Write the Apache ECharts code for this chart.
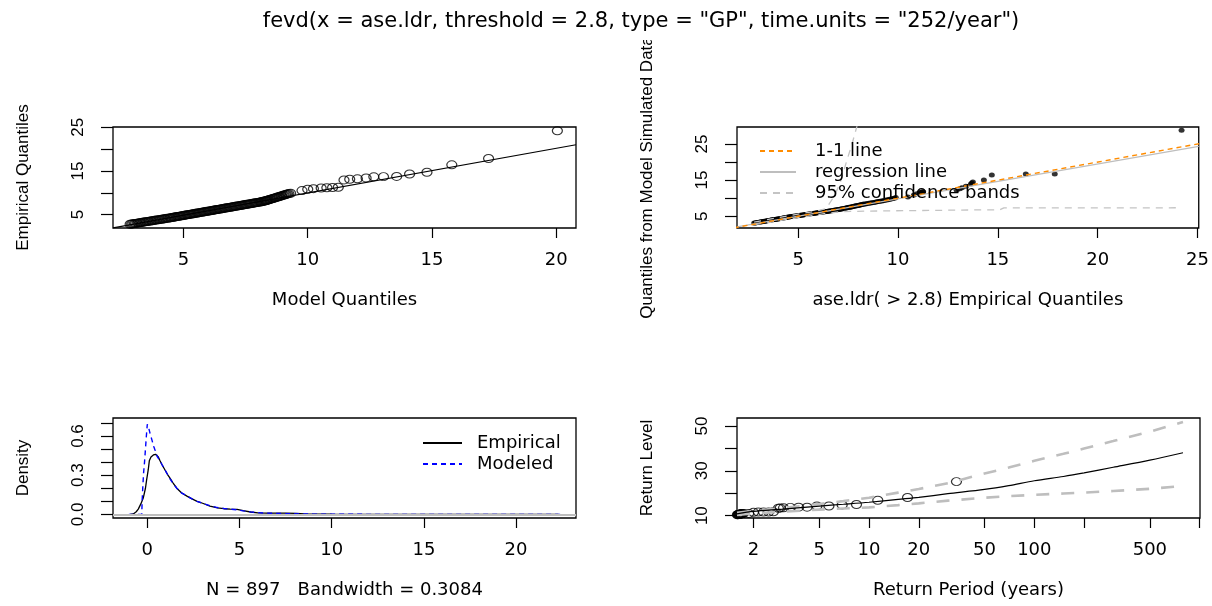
<!DOCTYPE html>
<html>
<head>
<meta charset="utf-8">
<script src="https://cdn.jsdelivr.net/npm/echarts@6/dist/echarts.min.js"></script>
<style>
  html, body { margin: 0; padding: 0; background: #ffffff; }
  #chart { width: 1212px; height: 606px; }
</style>
</head>
<body>
<div id="chart"></div>
<script>
// ---- Diagnostics for the GP fit of ase.ldr above threshold 2.8 ----

// Sorted empirical quantiles of the exceedances (shared by both QQ panels)
const empQ = [
  2.80, 2.85, 2.90, 2.95, 3.00, 3.05, 3.10, 3.15, 3.20, 3.25,
  3.30, 3.35, 3.40, 3.45, 3.50, 3.55, 3.60, 3.65, 3.70, 3.75,
  3.80, 3.85, 3.90, 3.95, 4.00, 4.05, 4.10, 4.15, 4.20, 4.25,
  4.30, 4.35, 4.40, 4.45, 4.50, 4.55, 4.60, 4.65, 4.70, 4.75,
  4.80, 4.85, 4.90, 4.95, 5.00, 5.05, 5.10, 5.15, 5.20, 5.25,
  5.30, 5.35, 5.40, 5.45, 5.50, 5.55, 5.60, 5.65, 5.70, 5.75,
  5.80, 5.85, 5.90, 5.95, 6.00, 6.05, 6.10, 6.15, 6.20, 6.25,
  6.30, 6.35, 6.40, 6.45, 6.50, 6.55, 6.60, 6.65, 6.70, 6.75,
  6.80, 6.85, 6.90, 6.95, 7.00, 7.05, 7.10, 7.15, 7.20, 7.25,
  7.30, 7.35, 7.40, 7.45, 7.50, 7.55, 7.60, 7.65, 7.70, 7.75,
  7.80, 7.85, 7.90, 7.95, 8.00, 8.05, 8.10, 8.15, 8.20, 8.25,
  8.30,
  8.38, 8.46, 8.54, 8.62, 8.70, 8.78, 8.86, 8.94, 9.02, 9.10,
  9.18, 9.26, 9.34, 9.42, 9.50, 9.58, 9.66, 9.74, 9.82,
  9.89, 10.5, 10.8, 10.95, 11.1, 11.15, 11.2, 11.26, 12.94, 13.1,
  13.2, 13.4, 13.65, 13.7, 13.75, 14.3, 14.7, 16.4, 17.85, 24.2
];
// Quantiles of the fitted GP model at the same probabilities
const modelQ = [
  2.85, 2.91, 2.96, 3.02, 3.07, 3.13, 3.18, 3.24, 3.29, 3.35,
  3.40, 3.46, 3.51, 3.57, 3.62, 3.68, 3.73, 3.79, 3.84, 3.90,
  3.95, 4.01, 4.06, 4.12, 4.17, 4.23, 4.28, 4.34, 4.39, 4.45,
  4.49, 4.54, 4.59, 4.64, 4.69, 4.74, 4.79, 4.84, 4.89, 4.94,
  4.99, 5.04, 5.09, 5.14, 5.19, 5.24, 5.29, 5.34, 5.39, 5.44,
  5.49, 5.54, 5.59, 5.64, 5.69, 5.74, 5.79, 5.84, 5.89, 5.94,
  5.99, 6.04, 6.09, 6.14, 6.19, 6.24, 6.29, 6.34, 6.39, 6.44,
  6.49, 6.54, 6.59, 6.64, 6.69, 6.74, 6.79, 6.84, 6.89, 6.94,
  6.99, 7.04, 7.09, 7.14, 7.19, 7.24, 7.29, 7.34, 7.39, 7.44,
  7.49, 7.54, 7.59, 7.64, 7.69, 7.74, 7.79, 7.84, 7.89, 7.94,
  7.99, 8.04, 8.09, 8.13, 8.17, 8.21, 8.25, 8.29, 8.32, 8.35,
  8.38,
  8.42, 8.47, 8.51, 8.56, 8.60, 8.65, 8.69, 8.74, 8.78, 8.83,
  8.87, 8.92, 8.96, 9.01, 9.05, 9.10, 9.14, 9.19, 9.24,
  9.31, 9.77, 10.0, 10.23, 10.54, 10.77, 11.0, 11.23, 11.46, 11.69,
  12.0, 12.35, 12.66, 13.05, 13.58, 14.1, 14.8, 15.8, 17.28, 20.05
];
// Quantiles of data simulated from the fitted model
const simQ = [
  3.10, 3.15, 3.20, 3.25, 3.30, 3.35, 3.40, 3.45, 3.50, 3.55,
  3.60, 3.65, 3.70, 3.75, 3.80, 3.85, 3.90, 3.95, 4.00, 4.04,
  4.08, 4.12, 4.16, 4.21, 4.26, 4.31, 4.36, 4.41, 4.46, 4.51,
  4.56, 4.61, 4.66, 4.71, 4.76, 4.81, 4.86, 4.90, 4.94, 4.98,
  5.02, 5.06, 5.10, 5.14, 5.18, 5.22, 5.26, 5.30, 5.34, 5.38,
  5.42, 5.46, 5.50, 5.54, 5.58, 5.62, 5.66, 5.70, 5.74, 5.78,
  5.82, 5.86, 5.90, 5.94, 5.98, 6.02, 6.06, 6.10, 6.14, 6.18,
  6.22, 6.26, 6.30, 6.34, 6.38, 6.42, 6.46, 6.50, 6.55, 6.60,
  6.65, 6.70, 6.75, 6.80, 6.85, 6.90, 6.95, 7.00, 7.05, 7.10,
  7.16, 7.22, 7.28, 7.34, 7.40, 7.46, 7.52, 7.58, 7.64, 7.70,
  7.76, 7.82, 7.88, 7.94, 8.00, 8.06, 8.12, 8.18, 8.24, 8.30,
  8.36,
  8.42, 8.50, 8.58, 8.66, 8.74, 8.82, 8.90, 8.98, 9.06, 9.14,
  9.22, 9.30, 9.40, 9.50, 9.60, 9.70, 9.80, 9.90, 10.0,
  10.2, 10.3, 10.9, 11.2, 11.5, 11.6, 11.7, 11.8, 12.2, 12.6,
  12.9, 13.3, 13.9, 14.2, 14.5, 15.0, 16.4, 16.7, 16.7, 28.8
];

// Fitted line through the model-vs-empirical QQ points
const qqLineX = [2.16, 20.8];
const qqLineY = [1.95, 21.0];

// 1-1 reference and regression line for the simulated-data QQ plot
const identityEnds = [0, 30];
const regX = [1.94, 25.06];
const regY = [2.05, 24.35];

// 95% confidence bands for the simulated-data QQ plot
const bandLowX = [2.8, 3.6, 4.5, 5.5, 6.3, 7.2, 9.5, 13.0, 15.1, 15.3, 24.2];
const bandLowY = [2.7, 3.3, 4.2, 5.0, 5.7, 6.3, 6.5, 6.7, 6.8, 7.3, 7.35];
const bandUpX = [2.8, 4.0, 5.0, 5.8, 6.4, 6.8, 7.1, 7.4, 7.7, 8.0];
const bandUpY = [3.4, 4.6, 5.6, 6.3, 7.1, 10.5, 14.1, 19.7, 25.0, 31.0];

// Kernel density of the excesses (empirical) and the modelled GP density
const densX = [-0.93, -0.76, -0.6, -0.49, -0.35, -0.22, -0.1, -0.04, 0.05, 0.11,
  0.2, 0.33, 0.45, 0.51, 0.6, 0.69, 0.8, 0.96, 1.1, 1.24,
  1.4, 1.6, 1.85, 2.15, 2.4, 2.7, 3.0, 3.4, 3.8, 4.15,
  4.5, 4.87, 5.2, 5.6, 6.0, 6.5, 7.0, 7.5, 8.1, 8.5,
  9.0, 10, 12, 15, 18, 22.3];
const densY = [0, 0.003, 0.02, 0.04, 0.08, 0.125, 0.2, 0.26, 0.34, 0.41,
  0.44, 0.455, 0.46, 0.455, 0.44, 0.41, 0.38, 0.34, 0.305, 0.275,
  0.24, 0.2, 0.165, 0.14, 0.12, 0.1, 0.085, 0.063, 0.05, 0.043,
  0.04, 0.038, 0.028, 0.018, 0.012, 0.01, 0.009, 0.009, 0.008, 0.004,
  0.002, 0.001, 0, 0, 0, 0];
const modX = [-1.0, -0.3, -0.28, -0.24, -0.2, -0.15, -0.1, -0.05, 0.0, 0.08,
  0.15, 0.25, 0.35, 0.45, 0.55, 0.69, 0.8, 0.96, 1.1, 1.24,
  1.4, 1.6, 1.85, 2.15, 2.4, 2.7, 3.0, 3.4, 3.8, 4.15,
  4.5, 4.87, 5.2, 5.6, 6.0, 6.5, 7.0, 7.5, 8.0, 9.0,
  10, 12, 15, 18, 22.4];
const modY = [0, 0, 0.1, 0.22, 0.32, 0.4, 0.5, 0.6, 0.69, 0.66,
  0.62, 0.57, 0.52, 0.48, 0.44, 0.41, 0.38, 0.34, 0.305, 0.27,
  0.235, 0.2, 0.165, 0.14, 0.12, 0.1, 0.085, 0.066, 0.052, 0.045,
  0.04, 0.035, 0.027, 0.019, 0.013, 0.009, 0.007, 0.005, 0.004, 0.002,
  0.001, 0, 0, 0, 0];

// Return level curve with 95% confidence limits
const rlPeriod = [1.59, 2, 3, 5, 7, 10, 15, 20, 30, 50, 70, 100, 150, 200, 300, 500, 793];
const rlLevel  = [10.8, 11.9, 12.9, 14.3, 15.1, 16.0, 17.3, 18.2, 19.8, 21.7, 23.4, 25.6, 27.5, 29.1, 31.6, 34.8, 38.1];
const rlUpper  = [11.3, 12.2, 13.4, 15.2, 16.5, 18.0, 20.3, 21.9, 24.5, 28.8, 31.5, 34.5, 37.6, 40.0, 43.3, 47.5, 51.8];
const rlLower  = [10.3, 11.0, 11.8, 12.7, 13.2, 13.7, 14.7, 15.5, 16.7, 18.0, 18.7, 19.3, 19.9, 20.3, 21.0, 22.0, 23.2];

// Observed return levels at their empirical return periods
const obsPeriod = [1.40, 1.42, 1.44, 1.46, 1.48, 1.50, 1.52, 1.54, 1.56, 1.58,
  1.60, 1.61, 1.62, 1.63, 1.64, 1.65, 1.66, 1.67, 1.68, 1.69, 1.70, 1.72, 1.74,
  1.87, 2.0, 2.14, 2.3, 2.47, 2.64,
  2.83, 2.9, 3.04, 3.34, 3.75, 4.22, 4.84, 5.72, 6.88, 8.4, 11.3, 17.1, 33.8];
const obsLevel = [9.9, 9.95, 10.0, 10.05, 10.1, 10.15, 10.2, 10.25, 10.3, 10.35,
  10.4, 10.45, 10.5, 10.55, 10.6, 10.65, 10.7, 10.75, 10.8, 10.85, 10.9, 10.95, 11.0,
  11.0, 11.5, 11.6, 11.6, 11.6, 11.7,
  13.3, 13.4, 13.5, 13.7, 13.8, 13.8, 14.3, 14.3, 14.8, 15.0, 16.9, 18.1, 25.2];

// Tick positions and labelled ticks per panel
const qq1XTicks = [5, 10, 15, 20];
const qq1YTicks = [5, 10, 15, 20, 25], qq1YLabels = [5, 15, 25];
const qq2XTicks = [5, 10, 15, 20, 25];
const qq2YTicks = [5, 10, 15, 20, 25], qq2YLabels = [5, 15, 25];
const denXTicks = [0, 5, 10, 15, 20];
const denYTicks = [0, 0.1, 0.2, 0.3, 0.4, 0.5, 0.6, 0.7], denYLabels = [0, 0.3, 0.6];
const rlXTicks = [2, 5, 10, 20, 50, 100, 200, 500, 1000], rlXLabels = [2, 5, 10, 20, 50, 100, 500];
const rlYTicks = [10, 20, 30, 40, 50], rlYLabels = [10, 30, 50];

// Horizontal text uses a wide face; text running up the y axes uses a narrow one
const WIDE = '"DejaVu Sans", Verdana, sans-serif';
const NARROW = '"Liberation Sans", Arial, Helvetica, sans-serif';
const INK = '#000000';

const zip = (xs, ys) => xs.map((x, i) => [x, ys[i]]);

function xAxis(gridIndex, type, min, max, ticks, labels, name) {
  return {
    type, gridIndex, min, max,
    axisLine: { show: false, onZero: false },
    splitLine: { show: false },
    axisTick: { show: true, inside: false, length: 10, customValues: ticks,
      lineStyle: { color: INK, width: 1.2 } },
    axisLabel: { customValues: labels, margin: 23, fontSize: 18, fontFamily: WIDE,
      color: INK, formatter: v => String(v) },
    name, nameLocation: 'middle', nameGap: 63,
    nameTextStyle: { fontSize: 18, fontFamily: WIDE, color: INK }
  };
}
function yAxis(gridIndex, min, max, ticks, labels, name, fmt) {
  return {
    type: 'value', gridIndex, min, max,
    axisLine: { show: false, onZero: false },
    splitLine: { show: false },
    axisTick: { show: true, inside: false, length: 12, customValues: ticks,
      lineStyle: { color: INK, width: 1.2 } },
    axisLabel: { customValues: labels, rotate: 90, margin: 26, fontSize: 17, fontFamily: NARROW,
      color: INK, formatter: fmt || (v => String(v)) },
    name, nameLocation: 'middle', nameGap: 81,
    nameTextStyle: { fontSize: 17, fontFamily: NARROW, color: INK }
  };
}
const gridBox = { show: true, borderColor: INK, borderWidth: 1.3, backgroundColor: 'transparent' };
const openCircle = { color: 'rgba(0,0,0,0)', borderColor: INK, borderWidth: 1.1 };

const option = {
  animation: false,
  backgroundColor: '#ffffff',
  title: {
    text: 'fevd(x = ase.ldr, threshold = 2.8, type = "GP", time.units = "252/year")',
    left: 636, textAlign: 'center', top: 6,
    textStyle: { fontSize: 21, fontWeight: 'normal', fontFamily: WIDE, color: INK }
  },
  // the outer-left label of the top-right panel stops at its figure region
  graphic: [
    { type: 'rect', z: 3, silent: true, shape: { x: 622, y: 0, width: 50, height: 40 },
      style: { fill: '#ffffff' } }
  ],
  grid: [
    Object.assign({ left: 113, top: 127, width: 463, height: 101 }, gridBox),
    Object.assign({ left: 737, top: 127, width: 463, height: 101 }, gridBox),
    Object.assign({ left: 113, top: 418, width: 463, height: 100 }, gridBox),
    Object.assign({ left: 737, top: 418, width: 463, height: 100 }, gridBox)
  ],
  xAxis: [
    xAxis(0, 'value', 2.16, 20.8, qq1XTicks, qq1XTicks, 'Model Quantiles'),
    xAxis(1, 'value', 1.94, 25.06, qq2XTicks, qq2XTicks, 'ase.ldr( > 2.8) Empirical Quantiles'),
    xAxis(2, 'value', -1.86, 23.25, denXTicks, denXTicks, 'N = 897   Bandwidth = 0.3084'),
    xAxis(3, 'log', 1.59, 1005, rlXTicks, rlXLabels, 'Return Period (years)')
  ],
  yAxis: [
    yAxis(0, 1.94, 25.06, qq1YTicks, qq1YLabels, 'Empirical Quantiles'),
    yAxis(1, 1.75, 29.7, qq2YTicks, qq2YLabels, 'Quantiles from Model Simulated Data'),
    yAxis(2, -0.028, 0.738, denYTicks, denYLabels, 'Density', v => v.toFixed(1)),
    yAxis(3, 8.96, 53.6, rlYTicks, rlYLabels, 'Return Level')
  ],
  legend: [
    {
      data: ['1-1 line', 'regression line', '95% confidence bands'],
      orient: 'vertical', left: 754, top: 137, itemWidth: 36, itemHeight: 10, itemGap: 3,
      selectedMode: false, itemStyle: { opacity: 0 },
      textStyle: { fontSize: 18, fontFamily: WIDE, color: INK, padding: [0, 0, 0, 14], lineHeight: 18 }
    },
    {
      data: ['Empirical', 'Modeled'],
      orient: 'vertical', left: 417, top: 429, itemWidth: 39, itemHeight: 10, itemGap: 3,
      selectedMode: false, itemStyle: { opacity: 0 },
      textStyle: { fontSize: 18, fontFamily: WIDE, color: INK, padding: [0, 0, 0, 10], lineHeight: 18 }
    }
  ],
  series: [
    // Top left: empirical vs model quantiles
    {
      type: 'scatter', xAxisIndex: 0, yAxisIndex: 0, data: zip(modelQ, empQ),
      symbol: 'circle', symbolSize: [10, 8], silent: true, itemStyle: openCircle
    },
    {
      type: 'line', xAxisIndex: 0, yAxisIndex: 0, data: zip(qqLineX, qqLineY),
      symbol: 'none', silent: true, lineStyle: { color: INK, width: 1.2 }
    },
    // Top right: simulated vs empirical quantiles
    {
      type: 'scatter', xAxisIndex: 1, yAxisIndex: 1, data: zip(empQ, simQ),
      symbol: 'circle', symbolSize: [6, 5], silent: true, itemStyle: { color: INK }
    },
    {
      name: '95% confidence bands', type: 'line', xAxisIndex: 1, yAxisIndex: 1,
      data: zip(bandLowX, bandLowY), symbol: 'none', silent: true,
      lineStyle: { color: '#c4c4c4', width: 1.3, type: [7, 6] }
    },
    {
      name: '95% confidence bands', type: 'line', xAxisIndex: 1, yAxisIndex: 1,
      data: zip(bandUpX, bandUpY), symbol: 'none', silent: true,
      lineStyle: { color: '#c4c4c4', width: 1.3, type: [7, 6] }
    },
    {
      name: 'regression line', type: 'line', xAxisIndex: 1, yAxisIndex: 1,
      data: zip(regX, regY), symbol: 'none', silent: true,
      lineStyle: { color: '#bebebe', width: 1.3 }
    },
    {
      name: '1-1 line', type: 'line', xAxisIndex: 1, yAxisIndex: 1,
      data: zip(identityEnds, identityEnds), symbol: 'none', silent: true,
      lineStyle: { color: '#ff8c00', width: 1.4, type: [5, 4] }
    },
    // Bottom left: densities
    {
      name: 'Empirical', type: 'line', xAxisIndex: 2, yAxisIndex: 2,
      data: zip(densX, densY), symbol: 'none', silent: true,
      lineStyle: { color: INK, width: 1.3 },
      markLine: {
        silent: true, symbol: 'none', label: { show: false },
        lineStyle: { color: '#bebebe', width: 2, type: 'solid' },
        data: [{ yAxis: 0 }]
      }
    },
    {
      name: 'Modeled', type: 'line', xAxisIndex: 2, yAxisIndex: 2,
      data: zip(modX, modY), symbol: 'none', silent: true,
      lineStyle: { color: '#0000ff', width: 1.4, type: [5, 4] }
    },
    // Bottom right: return level plot
    {
      type: 'line', xAxisIndex: 3, yAxisIndex: 3, data: zip(rlPeriod, rlUpper),
      symbol: 'none', silent: true, lineStyle: { color: '#bebebe', width: 2.6, type: [13, 12] }
    },
    {
      type: 'line', xAxisIndex: 3, yAxisIndex: 3, data: zip(rlPeriod, rlLower),
      symbol: 'none', silent: true, lineStyle: { color: '#bebebe', width: 2.6, type: [13, 12] }
    },
    {
      type: 'line', xAxisIndex: 3, yAxisIndex: 3, data: zip(rlPeriod, rlLevel),
      symbol: 'none', smooth: 0.3, silent: true, lineStyle: { color: INK, width: 1.2 }
    },
    {
      type: 'scatter', xAxisIndex: 3, yAxisIndex: 3, data: zip(obsPeriod, obsLevel),
      symbol: 'circle', symbolSize: [10, 8], silent: true, itemStyle: openCircle
    }
  ]
};

const chart = echarts.init(document.getElementById('chart'), null, { renderer: 'canvas' });
chart.setOption(option);
</script>
</body>
</html>
